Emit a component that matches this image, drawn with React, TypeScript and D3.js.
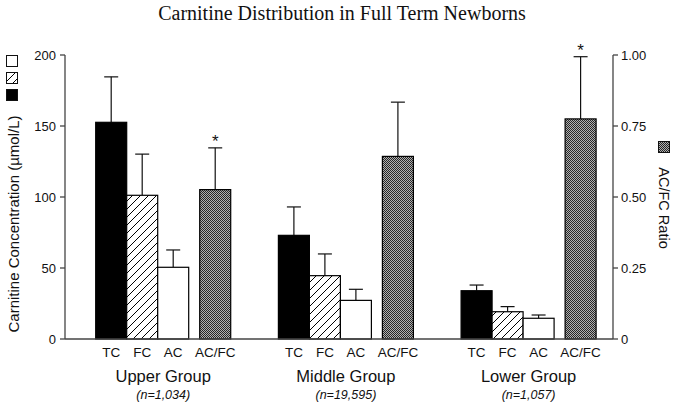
import React from "react";
import * as d3 from "d3";

const groups = ["Upper Group", "Middle Group", "Lower Group"];
const groupNs = ["(n=1,034)", "(n=19,595)", "(n=1,057)"];
const categories = ["TC", "FC", "AC", "AC/FC"];
const tcMean = [152.6, 73.0, 34.0];
const tcSD = [32.0, 20.0, 4.0];
const fcMean = [101.2, 44.6, 19.2];
const fcSD = [29.0, 15.3, 3.6];
const acMean = [50.5, 27.2, 14.6];
const acSD = [12.2, 7.8, 2.3];
const ratioMean = [0.526, 0.643, 0.775];
const ratioSD = [0.147, 0.191, 0.219];
const significant = [true, false, true];
const leftTicks = [0, 50, 100, 150, 200];
const rightTicks = [0, 0.25, 0.5, 0.75, 1.0];

const W = 685;
const H = 404;
const LEFT = 65;
const RIGHT = 613;
const BASE = 339;
const TOP = 55;
const BW = 31;

export default function App() {
  const yL = d3.scaleLinear().domain([0, 200]).range([BASE, TOP]);
  const yR = d3.scaleLinear().domain([0, 1]).range([BASE, TOP]);
  const gx = d3.scaleBand<string>().domain(groups).range([95.7, 596.1]).paddingInner(0.261).paddingOuter(0);
  const gw = gx.bandwidth();

  const axisColor = "#444";
  const sans = "'Liberation Sans', Arial, Helvetica, sans-serif";

  const bars: any[] = [];
  groups.forEach((g, i) => {
    const x0 = gx(g)!;
    const defs = [
      { cat: "TC", mean: tcMean[i], sd: tcSD[i], y: yL, fill: "#000" },
      { cat: "FC", mean: fcMean[i], sd: fcSD[i], y: yL, fill: "url(#hatch)" },
      { cat: "AC", mean: acMean[i], sd: acSD[i], y: yL, fill: "#fff" },
      { cat: "AC/FC", mean: ratioMean[i], sd: ratioSD[i], y: yR, fill: "url(#dots)" },
    ];
    defs.forEach((d, j) => {
      const x = j < 3 ? x0 + j * BW : x0 + gw - BW;
      bars.push({ ...d, x, gi: i, j, star: j === 3 && significant[i] });
    });
  });

  return (
    <svg width={W} height={H} style={{ position: "absolute", left: 0, top: 0, background: "#fff" }}>
      <defs>
        <pattern id="hatch" patternUnits="userSpaceOnUse" width="8" height="8">
          <rect width="8" height="8" fill="#fff" />
          <path d="M-2,2 L2,-2 M0,8 L8,0 M6,10 L10,6" stroke="#000" strokeWidth="1" />
        </pattern>
        <pattern id="dots" patternUnits="userSpaceOnUse" width="2" height="2">
          <rect width="2" height="2" fill="#b0b0b0" />
          <rect x="0" y="0" width="1" height="1" fill="#262626" />
          <rect x="1" y="1" width="1" height="1" fill="#262626" />
        </pattern>
      </defs>

      <text x={342} y={20} textAnchor="middle" fontFamily="'Liberation Serif', 'Times New Roman', serif" fontSize={20} fill="#111">
        Carnitine Distribution in Full Term Newborns
      </text>

      {/* left axis */}
      <line x1={LEFT} x2={LEFT} y1={TOP} y2={BASE} stroke={axisColor} strokeWidth={1.3} />
      {leftTicks.map((t) => (
        <g key={"l" + t}>
          <line x1={LEFT - 5} x2={LEFT} y1={yL(t)} y2={yL(t)} stroke={axisColor} strokeWidth={1.3} />
          <text x={LEFT - 9} y={yL(t)} dy="0.35em" textAnchor="end" fontFamily={sans} fontSize={13} fill="#111">
            {t}
          </text>
        </g>
      ))}
      {/* right axis */}
      <line x1={RIGHT} x2={RIGHT} y1={TOP} y2={BASE} stroke={axisColor} strokeWidth={1.3} />
      {rightTicks.map((t) => (
        <g key={"r" + t}>
          <line x1={RIGHT} x2={RIGHT + 5} y1={yR(t)} y2={yR(t)} stroke={axisColor} strokeWidth={1.3} />
          <text x={RIGHT + 8} y={yR(t)} dy="0.35em" textAnchor="start" fontFamily={sans} fontSize={13} fill="#111">
            {t === 0 ? "0" : d3.format(".2f")(t)}
          </text>
        </g>
      ))}

      {/* bars */}
      {bars.map((b, k) => {
        const top = b.y(b.mean);
        const errTop = b.y(b.mean + b.sd);
        const cx = b.x + BW / 2;
        return (
          <g key={"b" + k}>
            <line x1={cx} x2={cx} y1={top} y2={errTop} stroke="#111" strokeWidth={1.2} />
            <line x1={cx - 7} x2={cx + 7} y1={errTop} y2={errTop} stroke="#111" strokeWidth={1.2} />
            <rect x={b.x} y={top} width={BW} height={BASE - top} fill={b.fill} stroke="#000" strokeWidth={1.2} />
            {b.star && (
              <text x={cx} y={errTop - 1} textAnchor="middle" fontFamily={sans} fontSize={17} fill="#111">
                *
              </text>
            )}
          </g>
        );
      })}

      {/* baseline */}
      <line x1={LEFT} x2={RIGHT} y1={BASE} y2={BASE} stroke={axisColor} strokeWidth={1.3} />

      {/* category labels */}
      {bars.map((b, k) => (
        <text key={"c" + k} x={b.x + BW / 2} y={357} textAnchor="middle" fontFamily={sans} fontSize={13.5} fill="#111">
          {categories[b.j]}
        </text>
      ))}

      {/* group labels */}
      {groups.map((g, i) => (
        <g key={"g" + g}>
          <text x={gx(g)! + gw / 2} y={382} textAnchor="middle" fontFamily={sans} fontSize={16.5} fill="#111">
            {g}
          </text>
          <text x={gx(g)! + gw / 2} y={399} textAnchor="middle" fontFamily={sans} fontSize={12.5} fontStyle="italic" fill="#111">
            {groupNs[i]}
          </text>
        </g>
      ))}

      {/* left legend */}
      <rect x={6.5} y={55.5} width={11} height={11} fill="#fff" stroke="#111" strokeWidth={1} />
      <rect x={6.5} y={72.5} width={11} height={11} fill="url(#hatch)" stroke="#111" strokeWidth={1} />
      <rect x={6.5} y={89.5} width={11} height={11} fill="#000" stroke="#111" strokeWidth={1} />
      <text transform="translate(19,224) rotate(-90)" textAnchor="middle" fontFamily={sans} fontSize={15} fill="#111">
        Carnitine Concentration (µmol/L)
      </text>

      {/* right legend */}
      <rect x={658.5} y={141.5} width={11} height={11} fill="url(#dots)" stroke="#111" strokeWidth={1} />
      <text transform="translate(659,208) rotate(90)" textAnchor="middle" fontFamily={sans} fontSize={14.5} fill="#111">
        AC/FC Ratio
      </text>
    </svg>
  );
}
